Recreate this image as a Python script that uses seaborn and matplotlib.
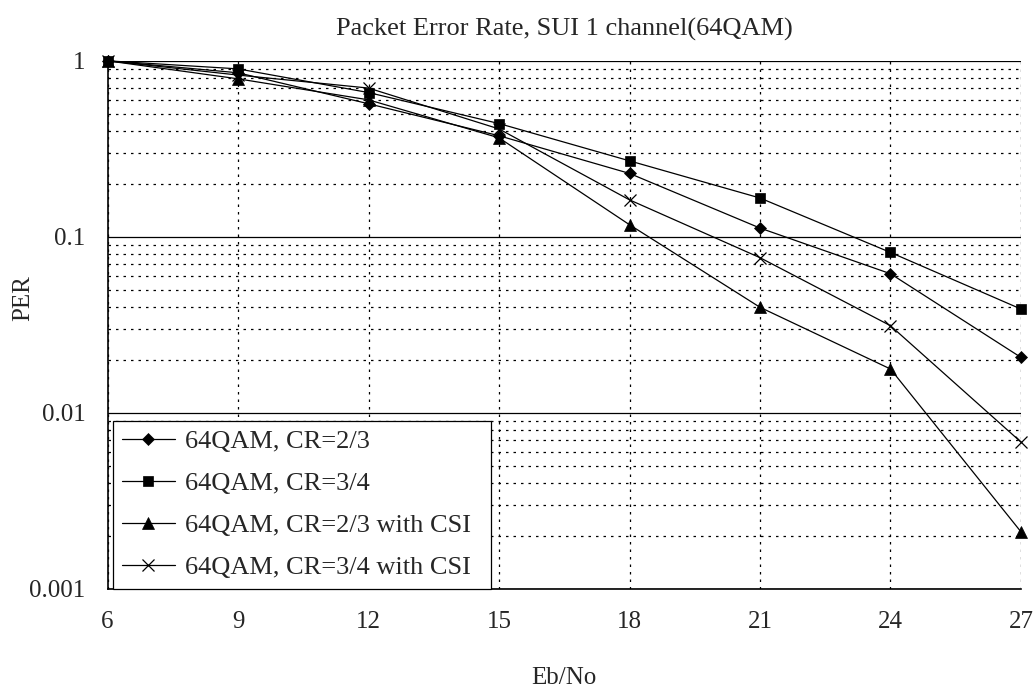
import numpy as np
import pandas as pd
import seaborn as sns
import matplotlib.pyplot as plt
from matplotlib.ticker import LogLocator, NullFormatter

ebno = [6, 9, 12, 15, 18, 21, 24, 27]
per_23 = [1.0, 0.855, 0.57, 0.375, 0.229, 0.112, 0.0616, 0.0206]
per_34 = [1.0, 0.90, 0.66, 0.44, 0.27, 0.166, 0.0814, 0.0388]
per_23_csi = [1.0, 0.79, 0.60, 0.365, 0.117, 0.0397, 0.0177, 0.0021]
per_34_csi = [1.0, 0.83, 0.70, 0.41, 0.162, 0.076, 0.0312, 0.0068]

labels = ['64QAM, CR=2/3', '64QAM, CR=3/4',
          '64QAM, CR=2/3 with CSI', '64QAM, CR=3/4 with CSI']
series = [per_23, per_34, per_23_csi, per_34_csi]
markers = ['D', 's', '^', 'x']
msizes = [6.5, 6.5, 8, 9]

sns.set_style('white')
plt.rcParams['font.family'] = ['Liberation Serif', 'DejaVu Serif']

fig = plt.figure(figsize=(10.36, 6.88), dpi=100)
ax = fig.add_axes([0.1038, 0.1446, 0.8817, 0.767])

for lab, vals, m, ms in zip(labels, series, markers, msizes):
    df = pd.DataFrame({'Eb/No': ebno, 'PER': vals})
    sns.lineplot(data=df, x='Eb/No', y='PER', ax=ax, color='black',
                 linewidth=0.9, marker=m, markersize=ms,
                 markeredgecolor='black', markeredgewidth=0.9 if m == 'x' else 0.5,
                 label=lab)
for ln in ax.lines:
    ln.set_clip_on(False)

ax.set_yscale('log')
ax.set_ylim(0.001, 1)
ax.set_xlim(6, 27)
ax.set_xticks(ebno)
ax.set_xticklabels([str(v) for v in ebno])
ax.set_yticks([0.001, 0.01, 0.1, 1])
ax.set_yticklabels(['0.001', '0.01', '0.1', '1'])
ax.yaxis.set_minor_locator(LogLocator(base=10, subs=np.arange(2, 10)))
ax.yaxis.set_minor_formatter(NullFormatter())

ax.grid(True, which='major', axis='y', color='black', linestyle='-', linewidth=0.9)
ax.grid(True, which='minor', axis='y', color='black', linestyle=(0, (2, 4)), linewidth=0.9)
ax.grid(True, which='major', axis='x', color='black', linestyle=(0, (2, 4)), linewidth=0.9)
ax.set_axisbelow(True)

for s in ['top', 'right']:
    ax.spines[s].set_visible(False)
for s in ['left', 'bottom']:
    ax.spines[s].set_color('black')
    ax.spines[s].set_linewidth(1.2)
ax.tick_params(axis='both', which='both', length=0, labelsize=18)
ax.tick_params(axis='x', pad=16)
ax.tick_params(axis='y', pad=16)

ax.set_xlabel('Eb/No', fontsize=18, labelpad=25)
ax.set_ylabel('PER', fontsize=18)
ax.yaxis.set_label_coords(-0.080, 0.55)
ax.set_title('Packet Error Rate, SUI 1 channel(64QAM)', fontsize=19, pad=18)

leg = ax.legend(loc='lower left', bbox_to_anchor=(0.0055, 0.0, 0.414, 0.33),
                mode='expand', borderaxespad=0,
                fancybox=False, frameon=True, fontsize=19, handlelength=2.0,
                labelspacing=0.7, borderpad=0.35, handletextpad=0.4)
leg.get_frame().set_edgecolor('black')
leg.get_frame().set_linewidth(0.9)
leg.get_frame().set_alpha(1)

fig.savefig('out.png', dpi=100)
